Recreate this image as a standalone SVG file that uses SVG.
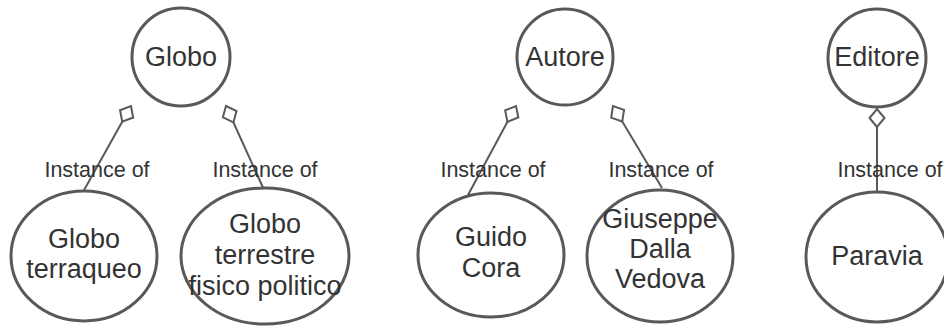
<svg xmlns="http://www.w3.org/2000/svg" width="944" height="326" viewBox="0 0 944 326">
  <style>
    .node { fill: #ffffff; stroke: #595959; stroke-width: 3; }
    .nt { font-family: "Liberation Sans", Arial, sans-serif; font-size: 27px; fill: #333333; text-anchor: middle; }
    .edge { fill: none; stroke: #595959; stroke-width: 2; marker-end: url(#diamond); }
    .lbl { font-family: "Liberation Sans", Arial, sans-serif; font-size: 21.5px; fill: #333333; text-anchor: middle; }
  </style>
  <defs>
    <!-- hollow aggregation diamond, tip at the path end -->
    <marker id="diamond" markerUnits="userSpaceOnUse" markerWidth="24" markerHeight="20" viewBox="0 0 24 20" refX="21" refY="10" orient="auto">
      <path d="M3,10 L12,2.5 L21,10 L12,17.5 Z" fill="#ffffff" stroke="#595959" stroke-width="2"/>
    </marker>
  </defs>
  <rect width="944" height="326" fill="#ffffff"/>

  <g id="connectors">
    <path class="edge" d="M83,192 L131,106"/>
    <path class="edge" d="M265,192 L226,106"/>
    <path class="edge" d="M468,195 L516,106"/>
    <path class="edge" d="M662,188 L613,106"/>
    <path class="edge" d="M877,192 L877,109"/>
    <text class="lbl" x="97" y="177">Instance of</text>
    <text class="lbl" x="265" y="177">Instance of</text>
    <text class="lbl" x="493" y="177">Instance of</text>
    <text class="lbl" x="661" y="177">Instance of</text>
    <text class="lbl" x="890" y="177">Instance of</text>
  </g>

  <g id="globo">
    <circle class="node" cx="181" cy="57" r="49"/>
    <text class="nt" x="181" y="66">Globo</text>
  </g>
  <g id="globo-terraqueo">
    <ellipse class="node" cx="84" cy="256" rx="73" ry="65"/>
    <text class="nt" x="84" y="248">Globo</text>
    <text class="nt" x="84" y="278">terraqueo</text>
  </g>
  <g id="globo-terrestre">
    <ellipse class="node" cx="265" cy="256" rx="84" ry="68"/>
    <text class="nt" x="265" y="233">Globo</text>
    <text class="nt" x="265" y="264">terrestre</text>
    <text class="nt" x="265" y="295">fisico politico</text>
  </g>

  <g id="autore">
    <circle class="node" cx="565" cy="57" r="48"/>
    <text class="nt" x="565" y="66">Autore</text>
  </g>
  <g id="guido-cora">
    <ellipse class="node" cx="491" cy="255" rx="73" ry="62"/>
    <text class="nt" x="491" y="246">Guido</text>
    <text class="nt" x="491" y="277">Cora</text>
  </g>
  <g id="giuseppe-dalla-vedova">
    <ellipse class="node" cx="660" cy="256" rx="73" ry="66"/>
    <text class="nt" x="660" y="228">Giuseppe</text>
    <text class="nt" x="660" y="258">Dalla</text>
    <text class="nt" x="660" y="288">Vedova</text>
  </g>

  <g id="editore">
    <circle class="node" cx="877" cy="58" r="49"/>
    <text class="nt" x="877" y="66">Editore</text>
  </g>
  <g id="paravia">
    <ellipse class="node" cx="877" cy="257" rx="71" ry="65"/>
    <text class="nt" x="877" y="265">Paravia</text>
  </g>
</svg>
